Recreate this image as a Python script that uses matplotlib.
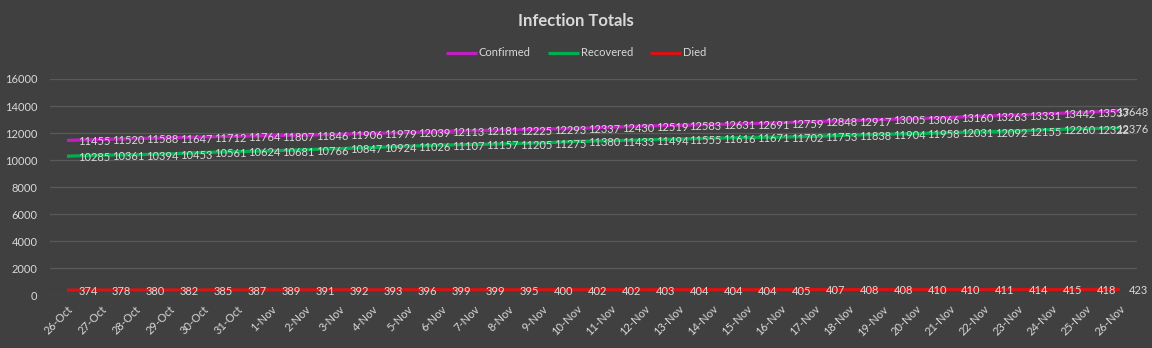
import matplotlib.pyplot as plt
import numpy as np

# === Data ===
dates = ['26-Oct', '27-Oct', '28-Oct', '29-Oct', '30-Oct', '31-Oct',
         '1-Nov', '2-Nov', '3-Nov', '4-Nov', '5-Nov', '6-Nov', '7-Nov', '8-Nov',
         '9-Nov', '10-Nov', '11-Nov', '12-Nov', '13-Nov', '14-Nov', '15-Nov',
         '16-Nov', '17-Nov', '18-Nov', '19-Nov', '20-Nov', '21-Nov', '22-Nov',
         '23-Nov', '24-Nov', '25-Nov', '26-Nov']

confirmed = [11455, 11520, 11588, 11647, 11712, 11764, 11807, 11846, 11906, 11979,
             12039, 12113, 12181, 12225, 12293, 12337, 12430, 12519, 12583, 12631,
             12691, 12759, 12848, 12917, 13005, 13066, 13160, 13263, 13331, 13442,
             13537, 13648]

recovered = [10285, 10361, 10394, 10453, 10561, 10624, 10681, 10766, 10847, 10924,
             11026, 11107, 11157, 11205, 11275, 11380, 11433, 11494, 11555, 11616,
             11671, 11702, 11753, 11838, 11904, 11958, 12031, 12092, 12155, 12260,
             12322, 12376]

died = [374, 378, 380, 382, 385, 387, 389, 391, 392, 393, 396, 399, 399, 395, 400,
        402, 402, 403, 404, 404, 404, 405, 407, 408, 408, 410, 410, 411, 414, 415,
        418, 423]

series = [('Confirmed', confirmed, '#c21fc2'),
          ('Recovered', recovered, '#00b050'),
          ('Died', died, '#d61414')]

# === Style ===
bg = '#404040'
txt = '#d9d9d9'
plt.rcParams['font.family'] = ['Lato', 'DejaVu Sans']

fig = plt.figure(figsize=(11.52, 3.48), dpi=100, facecolor=bg)
ax = fig.add_axes([0.0434, 0.152, 0.9436, 0.621], facecolor=bg)

x = np.arange(len(dates))
for name, vals, color in series:
    ax.plot(x, vals, color=color, linewidth=2.3, label=name, solid_capstyle='butt')
    for xi, v in zip(x[:-1], vals[:-1]):
        ax.annotate(str(v), (xi, v), xytext=(8, -1), textcoords='offset points',
                    ha='left', va='center', fontsize=8, color=txt)
    # last label is pulled back inside the chart area, like Excel does
    ax.annotate(str(vals[-1]), xy=(1148 / 1152, vals[-1]),
                xycoords=('figure fraction', 'data'), xytext=(0, -1),
                textcoords='offset points', ha='right', va='center',
                fontsize=8, color=txt)

ax.set_xlim(-0.5, len(dates) - 0.5)
ax.set_ylim(0, 16000)
ax.set_yticks(np.arange(0, 16001, 2000))
ax.set_xticks(x)
ax.set_xticklabels(dates, rotation=45, ha='right', rotation_mode='anchor')
ax.tick_params(axis='both', length=0, colors=txt, labelsize=8)
ax.tick_params(axis='y', pad=9)
ax.tick_params(axis='x', pad=6)
ax.grid(axis='y', color='#5a5a5a', linewidth=0.9)
ax.set_axisbelow(True)
for s in ax.spines.values():
    s.set_visible(False)

fig.text(0.5, 0.94, 'Infection Totals', ha='center', va='center',
         fontsize=12, fontweight='bold', color=txt)
fig.legend(loc='center', bbox_to_anchor=(0.5, 0.848), ncol=3, frameon=False,
           fontsize=8, labelcolor=txt, handlelength=2.8, handletextpad=0.2,
           columnspacing=1.5)

plt.savefig('out.png', dpi=100, facecolor=bg)
